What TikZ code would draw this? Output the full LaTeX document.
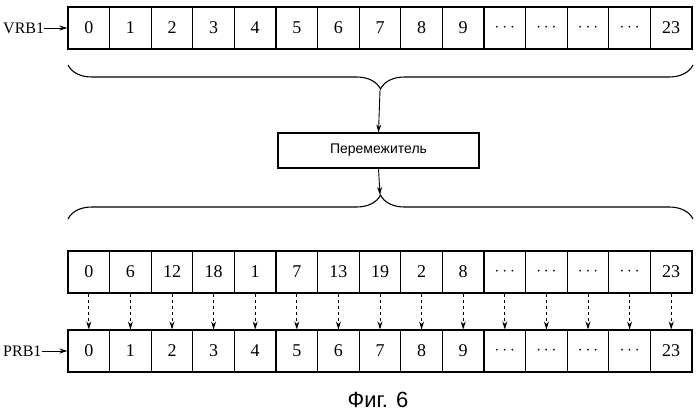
\documentclass[tikz,border=0pt]{standalone}
\usepackage{fontspec}
\setmainfont{Liberation Serif}
\newfontfamily\sansf{Liberation Sans}
\usetikzlibrary{decorations.pathreplacing,arrows.meta}
\begin{document}
\begin{tikzpicture}[x=1pt,y=-1pt,
  cell/.style={draw,line width=1.1pt,minimum width=41.6pt,minimum height=42pt,inner sep=0pt,font=\fontsize{18}{18}\selectfont},
  lab/.style={font=\fontsize{16}{16}\selectfont,anchor=west,inner sep=0pt},
  arr/.style={-{Stealth[length=8pt,width=5pt]},line width=0.9pt},
  darr/.style={arr,dashed},
  br/.style={decorate,decoration={brace,amplitude=24pt},line width=1.1pt}]
\useasboundingbox (0,0) rectangle (700,417);
\def\ca{0,1,2,3,4,5,6,7,8,9,$\cdots$,$\cdots$,$\cdots$,$\cdots$,23}
\def\cb{0,6,12,18,1,7,13,19,2,8,$\cdots$,$\cdots$,$\cdots$,$\cdots$,23}
\foreach \t [count=\i] in \ca {
  \node[cell] (a\i) at ({68+20.8+41.6*(\i-1)},28) {\t};
  \node[cell] (c\i) at ({68+20.8+41.6*(\i-1)},351) {\t};
}
\foreach \t [count=\i] in \cb {
  \node[cell] (b\i) at ({68+20.8+41.6*(\i-1)},272) {\t};
  \draw[darr] (b\i.south) -- (c\i.north);
}
\node[lab] (vl) at (3,28) {VRB1};
\node[lab] (pl) at (3,351) {PRB1};
\draw[arr] (vl.east) -- (a1.west);
\draw[arr] (pl.east) -- (c1.west);
\draw[br] (693,65) -- (68,65);
\coordinate (t1) at (380,90);
\node[draw,line width=1.1pt,minimum width=201pt,minimum height=35pt,font=\sansf\fontsize{14}{14}\selectfont] (il) at (378.5,150.5) {Перемежитель};
\draw[arr] (t1) -- (il.north);
\coordinate (t2) at (380,195);
\draw[br] (68,219) -- (693,219);
\draw[arr] (il.south) -- (t2);
\node[font=\sansf\fontsize{22}{22}\selectfont] (cap) at (378,400) {Фиг. 6};
\end{tikzpicture}
\end{document}
